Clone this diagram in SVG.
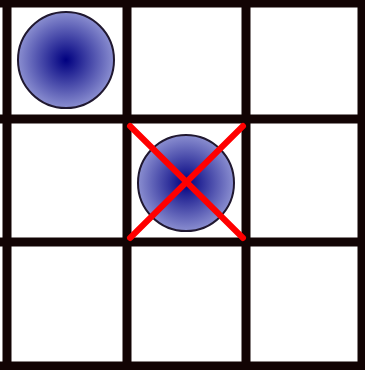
<svg xmlns="http://www.w3.org/2000/svg" width="365" height="370" viewBox="0 0 365 370">
<defs>
<radialGradient id="ball" cx="50%" cy="50%" r="50%">
<stop offset="0" stop-color="#000080"/>
<stop offset="1" stop-color="#8a8ed0"/>
</radialGradient>
<style>
.grid{stroke:#120404;stroke-width:9;fill:none}
.piece{fill:url(#ball);stroke:#201830;stroke-width:2}
.cross{stroke:#ff0000;stroke-width:6;stroke-linecap:round}
</style>
</defs>
<rect width="365" height="370" fill="#ffffff"/>
<g id="board">
<line class="grid" x1="0" y1="3" x2="365" y2="3"/>
<line class="grid" x1="0" y1="119" x2="365" y2="119"/>
<line class="grid" x1="0" y1="242" x2="365" y2="242"/>
<line class="grid" x1="0" y1="366" x2="365" y2="366"/>
<line class="grid" x1="7" y1="0" x2="7" y2="370"/>
<line class="grid" x1="127" y1="0" x2="127" y2="370"/>
<line class="grid" x1="246" y1="0" x2="246" y2="370"/>
<line class="grid" x1="362" y1="0" x2="362" y2="370"/>
</g>
<g id="piece1">
<circle class="piece" cx="66" cy="60" r="48"/>
</g>
<g id="piece2">
<circle class="piece" cx="186" cy="183" r="48"/>
</g>
<g id="cross">
<line class="cross" x1="130" y1="126" x2="243" y2="238"/>
<line class="cross" x1="130" y1="238" x2="243" y2="126"/>
</g>
</svg>
